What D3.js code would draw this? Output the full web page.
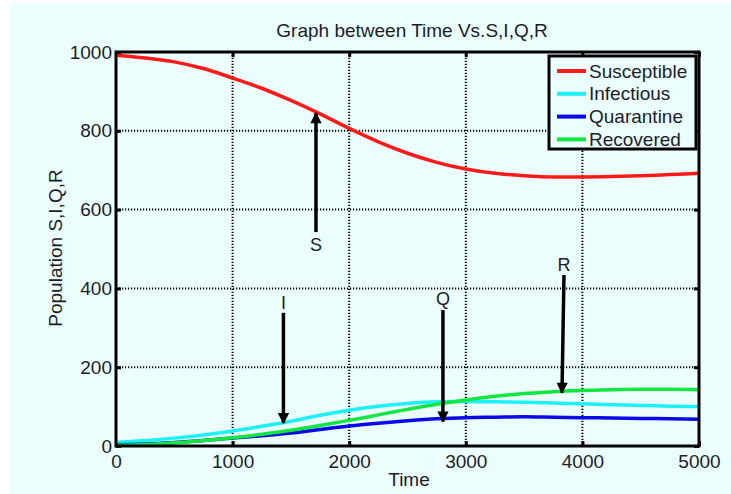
<!DOCTYPE html>
<html>
<head>
<meta charset="utf-8">
<script src="https://cdn.jsdelivr.net/npm/d3@7"></script>
<style>
  body { margin: 0; background: #fff; }
  svg { display: block; font-family: "Liberation Sans", Arial, sans-serif; }
</style>
</head>
<body>
<script>
// time steps and population series
var time = [0, 250, 500, 750, 1000, 1250, 1500, 1750, 2000, 2250, 2500,
            2750, 3000, 3250, 3500, 3750, 4000, 4250, 4500, 4750, 5000];
var susceptible = [992, 985, 975, 958, 934, 908, 877, 843, 806, 772, 743,
                   720, 703, 692, 686, 683, 683, 684, 686, 689, 692];
var infectious = [9, 14, 20, 28, 38, 50, 63, 78, 91, 101, 108,
                  112, 113, 112, 111, 109, 107, 105, 103, 101, 100];
var quarantine = [3, 5, 9, 14, 20, 26, 33, 42, 51, 58, 64,
                  69, 72, 73, 74, 73, 72, 71, 70, 69, 68];
var recovered = [2, 4, 8, 14, 21, 30, 40, 52, 65, 79, 93,
                 106, 117, 126, 133, 138, 141, 143, 144, 144, 143];

var seriesNames = ["Susceptible", "Infectious", "Quarantine", "Recovered"];
var seriesColors = ["#ff1a1a", "#1ef0f8", "#0a0ae8", "#12e640"];

var xTicks = [0, 1000, 2000, 3000, 4000, 5000];
var yTicks = [0, 200, 400, 600, 800, 1000];

// arrow annotations: label, tail and tip in data units
var arrows = [
  {label: "S", lx: 1715, ly: 510, x1: 1715, y1: 543, x2: 1715, y2: 845},
  {label: "I", lx: 1436, ly: 363, x1: 1436, y1: 338, x2: 1436, y2: 58},
  {label: "Q", lx: 2804, ly: 373, x1: 2804, y1: 345, x2: 2804, y2: 62},
  {label: "R", lx: 3842, ly: 459, x1: 3842, y1: 434, x2: 3825, y2: 135}
];

var width = 731,
    height = 494,
    margin = {top: 52, right: 32, bottom: 48, left: 116};

var svg = d3.select("body").append("svg")
    .attr("width", width)
    .attr("height", height);

// figure background
svg.append("rect")
    .attr("x", 9).attr("y", 3)
    .attr("width", width - 9).attr("height", height - 3)
    .attr("fill", "#ebffff");

var x = d3.scaleLinear().domain([0, 5000]).range([margin.left, width - margin.right]);
var y = d3.scaleLinear().domain([0, 1000]).range([height - margin.bottom, margin.top]);

// dotted grid
svg.append("g").selectAll("line")
    .data(xTicks.slice(1, -1))
    .enter().append("line")
    .attr("x1", function(d) { return x(d); })
    .attr("x2", function(d) { return x(d); })
    .attr("y1", y(0)).attr("y2", y(1000))
    .attr("stroke", "#000")
    .attr("stroke-width", 2)
    .attr("stroke-dasharray", "1.2,1.8");

svg.append("g").selectAll("line")
    .data(yTicks.slice(1, -1))
    .enter().append("line")
    .attr("y1", function(d) { return y(d); })
    .attr("y2", function(d) { return y(d); })
    .attr("x1", x(0)).attr("x2", x(5000))
    .attr("stroke", "#000")
    .attr("stroke-width", 2)
    .attr("stroke-dasharray", "1.2,1.8");

// axes, ticks inside
var fmt = d3.format("d");
svg.append("g")
    .attr("transform", "translate(0," + y(0) + ")")
    .call(d3.axisBottom(x).tickValues(xTicks).tickFormat(fmt)
        .tickSizeInner(-5).tickSizeOuter(0).tickPadding(9));
svg.append("g")
    .attr("transform", "translate(" + x(0) + ",0)")
    .call(d3.axisLeft(y).tickValues(yTicks).tickFormat(fmt)
        .tickSizeInner(-5).tickSizeOuter(0).tickPadding(4));

svg.append("g")
    .attr("transform", "translate(" + x(5000) + ",0)")
    .call(d3.axisRight(y).tickValues(yTicks).tickSizeInner(-5).tickSizeOuter(0).tickFormat(""));
svg.append("g")
    .attr("transform", "translate(0," + y(1000) + ")")
    .call(d3.axisTop(x).tickValues(xTicks).tickSizeInner(-5).tickSizeOuter(0).tickFormat(""));

svg.selectAll(".tick line").attr("stroke", "#000").attr("stroke-width", 3);
svg.selectAll(".domain").remove();
svg.selectAll(".tick text")
    .attr("fill", "#1c1c2a")
    .style("font-size", "19px")
    .style("font-family", "'Liberation Sans', Arial, sans-serif");

// series
var line = d3.line()
    .x(function(d) { return x(d[0]); })
    .y(function(d) { return y(d[1]); })
    .curve(d3.curveMonotoneX);

[susceptible, infectious, quarantine, recovered].forEach(function(vals, i) {
    svg.append("path")
        .datum(time.map(function(t, j) { return [t, vals[j]]; }))
        .attr("d", line)
        .attr("fill", "none")
        .attr("stroke", seriesColors[i])
        .attr("stroke-width", 3.5);
});

// plot frame
svg.append("rect")
    .attr("x", x(0)).attr("y", y(1000))
    .attr("width", x(5000) - x(0))
    .attr("height", y(0) - y(1000))
    .attr("fill", "none")
    .attr("stroke", "#000")
    .attr("stroke-width", 3);

// arrows
svg.append("defs").append("marker")
    .attr("id", "head")
    .attr("viewBox", "0 0 10 10")
    .attr("refX", 9).attr("refY", 5)
    .attr("markerWidth", 3.4).attr("markerHeight", 3.2)
    .attr("orient", "auto")
    .append("path")
    .attr("d", "M0,0L10,5L0,10z")
    .attr("fill", "#000");

arrows.forEach(function(a) {
    svg.append("line")
        .attr("x1", x(a.x1)).attr("y1", y(a.y1))
        .attr("x2", x(a.x2)).attr("y2", y(a.y2))
        .attr("stroke", "#000")
        .attr("stroke-width", 3.5)
        .attr("marker-end", "url(#head)");
    svg.append("text")
        .attr("x", x(a.lx)).attr("y", y(a.ly))
        .attr("dy", "0.35em")
        .attr("text-anchor", "middle")
        .attr("fill", "#1c1c2a")
        .style("font-size", "18px")
        .text(a.label);
});

// legend
var legend = svg.append("g");
legend.append("rect")
    .attr("x", 549).attr("y", 56)
    .attr("width", 147).attr("height", 93)
    .attr("fill", "#ebffff")
    .attr("stroke", "#000")
    .attr("stroke-width", 3);

seriesNames.forEach(function(name, i) {
    var ry = 71 + i * 22.8;
    legend.append("line")
        .attr("x1", 557).attr("x2", 586)
        .attr("y1", ry).attr("y2", ry)
        .attr("stroke", seriesColors[i])
        .attr("stroke-width", 4);
    legend.append("text")
        .attr("x", 589).attr("y", ry)
        .attr("dy", "0.35em")
        .attr("fill", "#1c1c2a")
        .style("font-size", "19px")
        .text(name);
});

// titles
svg.append("text")
    .attr("x", 412).attr("y", 37)
    .attr("text-anchor", "middle")
    .attr("fill", "#1c1c2a")
    .style("font-size", "19px")
    .text("Graph between Time Vs.S,I,Q,R");

svg.append("text")
    .attr("x", 409).attr("y", 486)
    .attr("text-anchor", "middle")
    .attr("fill", "#1c1c2a")
    .style("font-size", "19px")
    .text("Time");

svg.append("text")
    .attr("transform", "translate(62,248) rotate(-90)")
    .attr("text-anchor", "middle")
    .attr("fill", "#1c1c2a")
    .style("font-size", "19px")
    .text("Population S,I,Q,R");
</script>
</body>
</html>
